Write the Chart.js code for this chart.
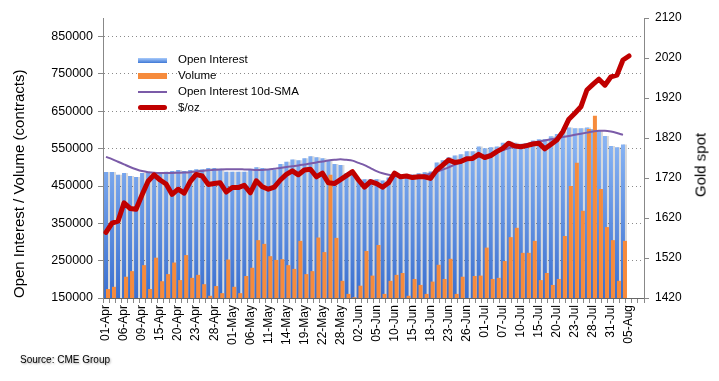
<!DOCTYPE html>
<html>
<head>
<meta charset="utf-8">
<script src="https://cdn.jsdelivr.net/npm/chart.js@4.4.1/dist/chart.umd.min.js"></script>
<style>
html,body{margin:0;padding:0;background:#fff;}
#wrap{position:relative;width:719px;height:381px;font-family:"Liberation Sans",Arial,Helvetica,sans-serif;color:#000;}
#c{position:absolute;left:0;top:0;}
#legend{position:absolute;left:138px;top:52px;font-size:11.5px;}
.row{position:relative;height:15.9px;line-height:15.9px;white-space:nowrap;}
.sw{position:absolute;left:0;width:29px;}
.lbl{position:absolute;left:40px;top:0;}
#ytitle2{position:absolute;left:700px;top:164.5px;transform:translate(-50%,-50%) rotate(-90deg);font-size:15px;white-space:nowrap;}
#source{position:absolute;left:20px;top:354px;font-size:10px;text-shadow:1px 1px 2px rgba(0,0,0,0.35);}
</style>
</head>
<body>
<div id="wrap">
  <canvas id="c" width="719" height="381"></canvas>
  <div id="legend"></div>
  <div id="ytitle2"></div>
  <div id="source"></div>
</div>
<script>
// ---------- data ----------
const dates = [
 '01-Apr','02-Apr','03-Apr','06-Apr','07-Apr','08-Apr','09-Apr','13-Apr','14-Apr','15-Apr','16-Apr','17-Apr','20-Apr','21-Apr','22-Apr','23-Apr','24-Apr','27-Apr','28-Apr','29-Apr','30-Apr',
 '01-May','04-May','05-May','06-May','07-May','08-May','11-May','12-May','13-May','14-May','15-May','18-May','19-May','20-May','21-May','22-May','26-May','27-May','28-May','29-May',
 '01-Jun','02-Jun','03-Jun','04-Jun','05-Jun','08-Jun','09-Jun','10-Jun','11-Jun','12-Jun','15-Jun','16-Jun','17-Jun','18-Jun','19-Jun','22-Jun','23-Jun','24-Jun','25-Jun','26-Jun','29-Jun','30-Jun',
 '01-Jul','02-Jul','06-Jul','07-Jul','08-Jul','09-Jul','10-Jul','13-Jul','14-Jul','15-Jul','16-Jul','17-Jul','20-Jul','21-Jul','22-Jul','23-Jul','24-Jul','27-Jul','28-Jul','29-Jul','30-Jul','31-Jul',
 '03-Aug','04-Aug','05-Aug'
];
const emptySlots = ['', ''];

const openInterest = [
 487500,487500,480000,485000,477000,474000,485000,488000,485000,487000,
 488000,490000,493000,490000,493000,495000,495000,498000,498000,496000,
 488000,488000,488000,488000,493000,500000,498000,493000,493000,509000,
 515000,521000,519000,524000,530000,527000,524000,520000,509000,506000,
 485000,484000,468000,468000,468000,468000,465000,473000,484000,479000,
 479000,481000,484000,487000,489000,513000,519000,527000,532000,535000,
 543000,543000,556000,551000,554000,556000,566000,570000,566000,563000,
 565000,572000,575000,576000,583000,589000,596000,607000,605000,605000,
 607000,603000,600000,584000,557000,554000,561000
];
const volume = [
 174000,180000,140000,207000,222000,140000,238000,174000,258000,195000,
 214000,245000,198000,265000,204000,212000,187000,156000,182000,163000,
 253000,180000,163000,209000,231000,305000,295000,262000,252000,254000,
 238000,228000,303000,214000,222000,312000,273000,480000,311000,196000,
 161000,152000,183000,276000,210000,292000,161000,196000,212000,217000,
 156000,201000,185000,161000,194000,239000,201000,255000,161000,207000,
 145000,209000,210000,285000,201000,204000,249000,313000,338000,271000,
 271000,303000,198000,217000,185000,201000,316000,450000,512000,384000,
 603000,638000,442000,340000,305000,196000,303000
];
const oiSma10 = [
 528000,522000,515000,508000,501000,495000,490000,487000,485500,485000,
 485000,485000,485500,486000,487000,489000,490500,492000,493500,494500,
 495000,495000,495000,494500,494000,493000,493000,494000,496000,498000,
 501000,503000,505000,507500,510000,513000,515500,518000,520000,521500,
 520000,518000,512000,506000,498000,490000,484000,480000,477500,476000,
 475000,475000,476500,479000,483000,488000,494000,500000,507000,513000,
 518500,523500,528000,532000,536000,541000,546000,551000,555000,558500,
 562000,566000,569000,572000,575000,578000,581000,584000,587000,590000,
 593000,596000,598000,598000,596000,592000,587000
];
const goldSpot = [
 1584,1607,1612,1658,1644,1642,1678,1712,1728,1715,
 1705,1679,1692,1682,1711,1729,1725,1704,1706,1708,
 1685,1696,1696,1702,1683,1713,1698,1692,1697,1715,
 1729,1738,1728,1740,1742,1723,1732,1708,1706,1716,
 1726,1736,1715,1697,1711,1706,1697,1708,1732,1723,
 1725,1721,1723,1723,1719,1740,1752,1765,1759,1761,
 1768,1769,1779,1771,1776,1786,1794,1807,1800,1798,
 1801,1805,1807,1793,1804,1815,1836,1867,1882,1898,
 1940,1954,1967,1952,1973,1977,2015,2025
];
const leftTicks = [150000,250000,350000,450000,550000,650000,750000,850000];
const rightTicks = [1420,1520,1620,1720,1820,1920,2020,2120];
const seriesNames = ['Open Interest','Volume','Open Interest 10d-SMA','$/oz'];
const leftTitle = 'Open Interest / Volume (contracts)';
const rightTitle = 'Gold spot';
const sourceText = 'Source: CME Group';

// ---------- chart ----------
const FONT = '"Liberation Sans", Arial, Helvetica, sans-serif';
const labels = dates.concat(emptySlots);
const nCat = labels.length;

let gradCache = null, gradKey = '';
function blueGradient(context) {
  const chart = context.chart;
  const a = chart.chartArea;
  if (!a) return '#7aa8ee';
  const key = a.top + '_' + a.bottom;
  if (gradCache && gradKey === key) return gradCache;
  const g = chart.ctx.createLinearGradient(0, a.top, 0, a.bottom);
  g.addColorStop(0, '#a6c9fb');
  g.addColorStop(0.45, '#86b2f3');
  g.addColorStop(1, '#3a6fcf');
  gradCache = g; gradKey = key;
  return g;
}

const barShadow = {
  id: 'barShadow',
  beforeDatasetDraw(chart, args) {
    if (args.index === 0) {
      const c = chart.ctx;
      c.save();
      c.shadowColor = 'rgba(0,0,0,0.15)';
      c.shadowOffsetX = 2;
      c.shadowOffsetY = 0;
      c.shadowBlur = 0;
    }
  },
  afterDatasetDraw(chart, args) {
    if (args.index === 0) chart.ctx.restore();
  }
};

const shift = 1 / 3; // orange volume bars sit slightly right of the OI bars

new Chart(document.getElementById('c'), {
  type: 'bar',
  data: {
    labels: labels,
    datasets: [
      { type: 'bar', label: seriesNames[0], data: openInterest, xAxisID: 'x', yAxisID: 'y',
        backgroundColor: blueGradient, borderWidth: 0, grouped: false, maxBarThickness: 4, order: 4 },
      { type: 'bar', label: seriesNames[1], data: volume.map((v, i) => ({ x: i, y: v })), xAxisID: 'x2', yAxisID: 'y',
        backgroundColor: '#f68b3c', borderWidth: 0, grouped: false, maxBarThickness: 4, order: 3 },
      { type: 'line', label: seriesNames[2], data: oiSma10, xAxisID: 'x', yAxisID: 'y',
        borderColor: '#7b5ba8', borderWidth: 2, pointRadius: 0, cubicInterpolationMode: 'monotone', fill: false, order: 2 },
      { type: 'line', label: seriesNames[3], data: goldSpot, xAxisID: 'x', yAxisID: 'y2',
        borderColor: '#c00000', borderWidth: 5, pointRadius: 0, tension: 0, fill: false,
        borderJoinStyle: 'round', borderCapStyle: 'round', order: 1 }
    ]
  },
  options: {
    responsive: false,
    animation: false,
    events: [],
    layout: { padding: { top: 18, left: 0, right: 0, bottom: 0 } },
    plugins: { legend: { display: false }, tooltip: { enabled: false } },
    scales: {
      x: {
        type: 'category', position: 'bottom', offset: true,
        grid: { offset: true, display: true, drawOnChartArea: false, drawTicks: true, tickLength: 5, color: '#888' },
        border: { display: true, color: '#666', width: 1 },
        ticks: {
          autoSkip: false, maxRotation: 90, minRotation: 90, padding: 2,
          font: { size: 12, family: FONT }, color: '#000',
          callback: function (v, i) { return i % 3 === 0 ? this.getLabelForValue(v) : ''; }
        },
        afterFit(s) { s.height = 83; }
      },
      x2: {
        type: 'linear', position: 'bottom', display: false, offset: false, grace: 0,
        min: -0.5 - shift, max: nCat - 0.5 - shift
      },
      y: {
        type: 'linear', position: 'left', min: 150000, max: 900000,
        afterBuildTicks(s) { s.ticks = leftTicks.map(v => ({ value: v })); },
        grid: { color: '#8a8a8a', lineWidth: 1, drawTicks: true, tickLength: 5, tickColor: '#888' },
        border: { display: true, color: '#888', dash: [1, 3] },
        ticks: { padding: 5, font: { size: 12.5, family: FONT }, color: '#000', callback: v => String(v) },
        title: { display: true, text: leftTitle, align: 'start', color: '#000',
                 font: { size: 15, family: FONT }, padding: { top: 11, bottom: 0 } },
        afterFit(s) { s.width = 103; }
      },
      y2: {
        type: 'linear', position: 'right', min: 1420, max: 2120,
        afterBuildTicks(s) { s.ticks = rightTicks.map(v => ({ value: v })); },
        grid: { drawOnChartArea: false, drawTicks: true, tickLength: 5, color: '#888' },
        border: { display: true, color: '#888' },
        ticks: { padding: 6, font: { size: 12, family: FONT }, color: '#000', callback: v => String(v) },
        afterFit(s) { s.width = 75; }
      }
    }
  },
  plugins: [barShadow]
});

// ---------- HTML legend / titles ----------
const swatchStyles = [
  'top:5.5px;height:5px;background:linear-gradient(to bottom,#a8cbfb,#3f78d6);',
  'top:5px;height:6px;background:#f68b3c;',
  'top:7px;height:2px;background:#7b5ba8;',
  'top:5.5px;height:5px;background:#c00000;border-radius:2.5px;'
];
const legend = document.getElementById('legend');
seriesNames.forEach((name, i) => {
  const row = document.createElement('div');
  row.className = 'row';
  const sw = document.createElement('div');
  sw.className = 'sw';
  sw.style.cssText = swatchStyles[i];
  const lb = document.createElement('span');
  lb.className = 'lbl';
  lb.textContent = name;
  row.appendChild(sw); row.appendChild(lb);
  legend.appendChild(row);
});
document.getElementById('ytitle2').textContent = rightTitle;
document.getElementById('source').textContent = sourceText;
</script>
</body>
</html>
